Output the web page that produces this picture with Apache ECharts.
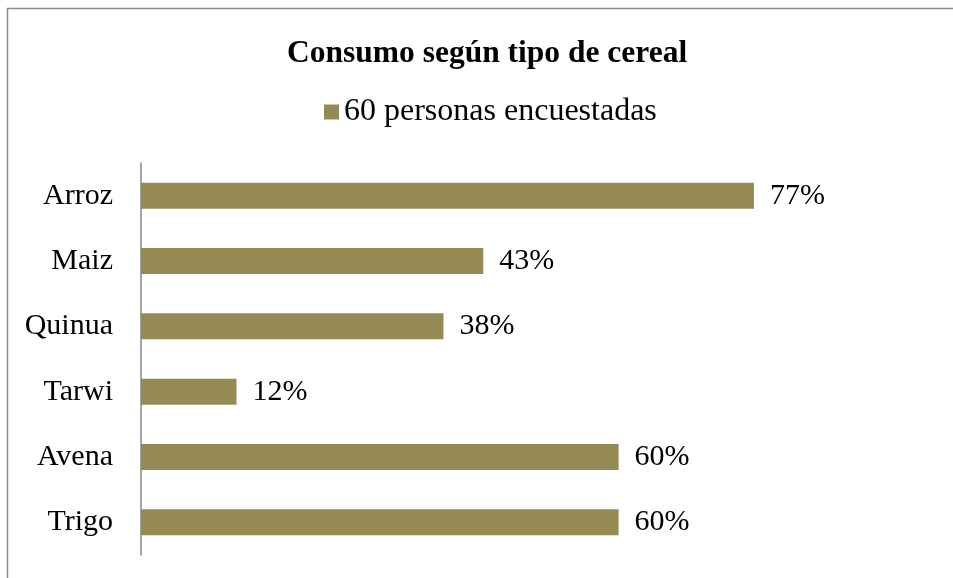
<!DOCTYPE html>
<html>
<head>
<meta charset="utf-8">
<script src="https://cdn.jsdelivr.net/npm/echarts@6/dist/echarts.min.js"></script>
<style>
html,body{margin:0;padding:0;background:#fff;}
#main{width:953px;height:578px;}
</style>
</head>
<body>
<div id="main"></div>
<script>
const categories = ['Arroz', 'Maiz', 'Quinua', 'Tarwi', 'Avena', 'Trigo'];
const values = [77, 43, 38, 12, 60, 60];
const seriesName = '60 personas encuestadas';
const titleText = 'Consumo según tipo de cereal';

const FONT = '"Liberation Serif", serif';
const chart = echarts.init(document.getElementById('main'), null, {renderer: 'canvas'});
chart.setOption({
  animation: false,
  backgroundColor: '#fff',
  title: {
    text: titleText,
    left: 282,
    top: 33,
    textStyle: {fontFamily: FONT, fontWeight: 'bold', fontSize: 31.5, color: '#000'}
  },
  legend: {
    data: [seriesName],
    top: 91,
    left: 319,
    icon: 'rect',
    itemWidth: 15,
    itemHeight: 15,
    itemGap: 4,
    textStyle: {fontFamily: FONT, fontSize: 32, color: '#000'}
  },
  graphic: [{
    type: 'rect',
    shape: {x: 7.5, y: 8.5, width: 960, height: 600},
    style: {fill: 'none', stroke: '#8c8c8c', lineWidth: 1.5},
    silent: true
  }],
  grid: {left: 141, top: 163, width: 796, bottom: 23, containLabel: false},
  xAxis: {
    type: 'value', min: 0, max: 100,
    show: false
  },
  yAxis: {
    type: 'category',
    data: categories,
    inverse: true,
    axisLine: {show: true, lineStyle: {color: '#868686', width: 1.5}},
    axisTick: {show: false},
    axisLabel: {fontFamily: FONT, fontSize: 30, color: '#000', margin: 28}
  },
  series: [{
    name: seriesName,
    type: 'bar',
    data: values,
    barWidth: 26,
    itemStyle: {color: '#958A53'},
    label: {
      show: true,
      position: 'right',
      distance: 16,
      formatter: p => p.value + '%',
      fontFamily: FONT,
      fontSize: 30,
      color: '#000'
    }
  }]
});
</script>
</body>
</html>
